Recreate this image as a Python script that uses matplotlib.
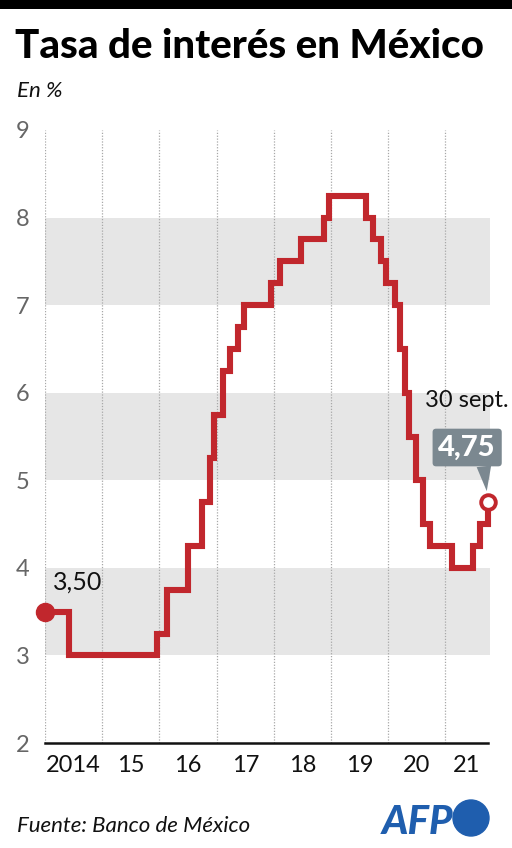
import pandas as pd
import numpy as np
import matplotlib.pyplot as plt
from matplotlib.patches import Circle

# Banxico target rate, change dates and new level
dates = ["2014-01-01", "2014-06-06", "2015-12-17", "2016-02-17", "2016-06-30",
         "2016-09-29", "2016-11-17", "2016-12-15", "2017-02-09", "2017-03-30",
         "2017-05-18", "2017-06-22", "2017-12-14", "2018-02-08", "2018-06-21",
         "2018-11-15", "2018-12-20", "2019-08-15", "2019-09-26", "2019-11-14",
         "2019-12-19", "2020-02-13", "2020-03-20", "2020-04-21", "2020-05-14",
         "2020-06-25", "2020-08-13", "2020-09-24", "2021-02-11", "2021-06-24",
         "2021-08-12", "2021-09-30"]
rates = [3.50, 3.00, 3.25, 3.75, 4.25,
         4.75, 5.25, 5.75, 6.25, 6.50,
         6.75, 7.00, 7.25, 7.50, 7.75,
         8.00, 8.25, 8.00, 7.75, 7.50,
         7.25, 7.00, 6.50, 6.00, 5.50,
         5.00, 4.50, 4.25, 4.00, 4.25,
         4.50, 4.75]
years = [2014, 2015, 2016, 2017, 2018, 2019, 2020, 2021]
year_labels = ["2014", "15", "16", "17", "18", "19", "20", "21"]
yticks = [2, 3, 4, 5, 6, 7, 8, 9]
bands = [(3, 4), (5, 6), (7, 8)]

dates = pd.to_datetime(dates)
RED = "#c1272d"
GREY_BOX = "#7b8890"
FONT = "Lato"

plt.rcParams['font.family'] = [FONT, 'DejaVu Sans']

fig = plt.figure(figsize=(5.12, 8.48), dpi=100)
ax = fig.add_axes([45/512, 105/848, 443/512, 613/848])

start, end = dates[0], dates[-1]
ax.set_xlim(start, end)
ax.set_ylim(2, 9)

# grey bands
for lo, hi in bands:
    ax.axhspan(lo, hi, xmin=0, xmax=1.005, color="#e6e6e6", zorder=0, lw=0, clip_on=False)

# dotted year lines
for y in years:
    ax.axvline(pd.Timestamp(f"{y}-01-01"), color="#a8a8a8", ls=(0, (1, 1.3)), lw=0.9, zorder=1)

ax.plot(dates, rates, drawstyle="steps-post", color=RED, lw=4.4,
        solid_joinstyle="miter", zorder=3, clip_on=False)
ax.plot([start], [rates[0]], "o", ms=13, color=RED, zorder=4, clip_on=False)
ax.plot([end], [rates[-1]], "o", ms=10.5, mfc="white", mec=RED, mew=2.8, zorder=4, clip_on=False)

# labels on the points
ax.annotate("3,50", (start, rates[0]), xytext=(6, 13), textcoords="offset points",
            fontsize=18, color="#111111", ha="left", va="bottom")
ax.annotate("4,75", (end, rates[-1]), xytext=(-15, 30), textcoords="offset points",
            fontsize=21, fontweight="black", color="white", ha="center", va="bottom",
            bbox=dict(boxstyle="round,pad=0.2,rounding_size=0.12", fc=GREY_BOX, ec="none"),
            arrowprops=dict(arrowstyle="wedge,tail_width=0.5,shrink_factor=0.5", fc=GREY_BOX,
                            ec="none", shrinkA=0, shrinkB=8,
                            relpos=(0.78, 0.0)),
            annotation_clip=False, zorder=5)
ax.annotate("30 sept.", (end, rates[-1]), xytext=(-15, 66), textcoords="offset points",
            fontsize=17, color="#111111", ha="center", va="bottom", annotation_clip=False)

# axes styling
for s in ["left", "right", "top"]:
    ax.spines[s].set_visible(False)
ax.spines["bottom"].set_linewidth(1.8)
ax.spines["bottom"].set_color("#111111")
ax.set_yticks(yticks)
ax.set_yticklabels([str(v) for v in yticks], fontsize=17, color="#666666")
ax.tick_params(axis="y", length=0, pad=11)

mids = []
for y in years:
    a = pd.Timestamp(f"{y}-01-01")
    b = min(pd.Timestamp(f"{y+1}-01-01"), end)
    mids.append(a + (b - a) / 2)
ax.set_xticks(mids)
ax.set_xticklabels(year_labels, fontsize=17, color="#111111")
ax.tick_params(axis="x", length=0, pad=9)

# header and footer
fig.patches.append(plt.Rectangle((0, 839/848), 1, 9/848, transform=fig.transFigure,
                                 color="black", lw=0))
fig.text(15/512, 1 - 58/848, "Tasa de interés en México", fontsize=29,
         fontweight="black", color="black", ha="left", va="baseline")
fig.text(17/512, 1 - 97/848, "En %", fontsize=16, style="italic", color="#111111",
         ha="left", va="baseline")
fig.text(17/512, 1 - 832/848, "Fuente: Banco de México", fontsize=16, style="italic",
         color="#111111", ha="left", va="baseline")

BLUE = "#1f5eae"
fig.text(453/512, 1 - 834/848, "AFP", fontsize=29, fontweight="black", style="italic",
         color=BLUE, ha="right", va="baseline")
fig.patches.append(Circle((471, 848 - 818), 18, transform=None, color=BLUE))

fig.savefig("out.png", dpi=100)
